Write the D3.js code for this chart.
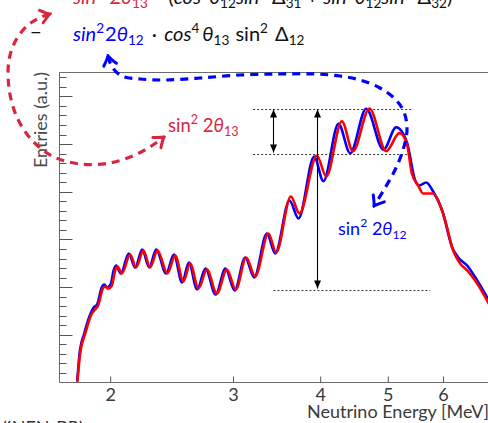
<!DOCTYPE html>
<html><head><meta charset="utf-8">
<script src="https://cdn.jsdelivr.net/npm/d3@7"></script>
<style>
html,body{margin:0;padding:0;background:#fff;overflow:hidden;}
svg{display:block;}
text{font-family:Lato,'DejaVu Sans',sans-serif;}
</style></head><body>
<svg id="c" width="488" height="423"></svg>
<script>
// ---- data ----
const energyRed = [1.795,1.811,1.842,1.883,1.903,1.922,1.952,1.967,1.987,2.011,2.033,2.049,2.079,2.136,2.179,2.232,2.282,2.338,2.416,2.479,2.547,2.604,2.677,2.752,2.844,2.940,3.028,3.133,3.227,3.372,3.459,3.631,3.736,3.956,4.080,4.297,4.456,4.706,4.973,5.196,5.325,5.413,5.527,5.619,5.808,5.904,6.042,6.204,6.349,6.497,6.715,6.940,7.13];
const entriesRed = [0.02,0.608,1.027,1.447,1.531,1.615,1.971,2.013,1.971,2.034,2.348,2.432,2.286,2.684,2.411,2.768,2.411,2.768,2.286,2.663,2.118,2.495,1.971,2.369,1.866,2.369,1.950,2.621,2.223,3.124,2.726,3.900,3.544,4.760,4.320,5.479,4.850,5.745,4.850,5.228,5.011,4.382,4.131,3.963,3.963,3.816,3.397,2.768,2.495,2.349,2.076,1.719,1.405];
const energyBlue = [1.794,1.808,1.836,1.875,1.894,1.916,1.945,1.961,1.980,2.003,2.025,2.040,2.071,2.127,2.172,2.223,2.275,2.328,2.406,2.468,2.536,2.593,2.665,2.739,2.833,2.926,3.016,3.123,3.217,3.355,3.448,3.614,3.724,3.921,4.043,4.249,4.416,4.656,4.929,5.140,5.325,5.473,5.545,5.675,5.808,5.983,6.183,6.307,6.497,6.715,6.940,7.126];
const entriesBlue = [0.02,0.608,1.027,1.447,1.573,1.636,1.992,2.055,1.992,2.055,2.369,2.453,2.286,2.705,2.411,2.789,2.411,2.789,2.286,2.684,2.097,2.516,1.950,2.390,1.845,2.390,1.929,2.621,2.202,3.124,2.705,3.816,3.439,4.739,4.221,5.425,4.808,5.739,4.879,5.353,5.039,4.236,4.131,4.194,4.005,3.607,2.831,2.621,2.453,2.139,1.782,1.468];
const xTickValues = [2,3,4,5,6];
const xTickLabels = ["2","3","4","5","6"];
const yMinorStep = 0.2;
// reference levels of the annotation (entries) and their energy extents
const levelValues = [5.745, 4.80, 1.95];
const levelFrom = [3.206, 3.206, 3.428];
const levelTo = [5.418, 5.418, 5.751];
const arrowEnergies = [3.428, 3.960];
const arrowFrom = [5.745, 5.745];
const arrowTo = [4.80, 1.95];

// ---- layout ----
const svg = d3.select('#c');
const W = 488, H = 423;
const pLeft = 59.5, pTop = 72.5, pBottom = 382.5;
const x = d3.scaleLog().domain([1.692, 8]).range([pLeft, pLeft + 303*Math.log(8/1.692)]);
const y = d3.scaleLinear().domain([0, 6.5]).range([pBottom, pTop]);
const RED = '#ff0000', BLUE = '#0000ff', DRED = '#d7263d';

const defs = svg.append('defs');
defs.append('clipPath').attr('id','plot').append('rect')
  .attr('x', pLeft).attr('y', pTop).attr('width', W - pLeft + 20).attr('height', pBottom - pTop);
function vMarker(id, col){
  defs.append('marker').attr('id', id).attr('markerUnits','userSpaceOnUse')
    .attr('viewBox','-11 -9 13 18').attr('markerWidth',13).attr('markerHeight',18)
    .attr('refX',0).attr('refY',0).attr('orient','auto-start-reverse')
    .append('path').attr('d','M-9,-6.5 Q-3,-1.5 0,0 Q-3,1.5 -9,6.5')
    .attr('fill','none').attr('stroke',col).attr('stroke-width',3).attr('stroke-linecap','round');
}
vMarker('vr', DRED); vMarker('vb', BLUE);
defs.append('marker').attr('id','tri').attr('markerUnits','userSpaceOnUse')
  .attr('viewBox','-9 -4 10 8').attr('markerWidth',10).attr('markerHeight',8)
  .attr('refX',0).attr('refY',0).attr('orient','auto-start-reverse')
  .append('path').attr('d','M-8,-3.5 L0,0 L-8,3.5 Z').attr('fill','#000');

// frame
svg.append('path').attr('d',`M${pLeft},${pBottom} L${pLeft},${pTop} L${W+5},${pTop}`)
  .attr('fill','none').attr('stroke','#6b6b6b').attr('stroke-width',1);
svg.append('line').attr('x1',pLeft).attr('x2',W+5).attr('y1',pBottom).attr('y2',pBottom)
  .attr('stroke','#6b6b6b').attr('stroke-width',1);

// y ticks (inside)
const yTicks = d3.range(0, 6.5 + 1e-9, yMinorStep).filter(v => v > 0.01);
svg.append('g').selectAll('line').data(yTicks).join('line')
  .attr('x1', pLeft).attr('x2', v => pLeft + (Math.abs(v - Math.round(v)) < 1e-6 ? 13 : 7))
  .attr('y1', v => Math.round(y(v)) + 0.5).attr('y2', v => Math.round(y(v)) + 0.5)
  .attr('stroke','#555').attr('stroke-width',1);

// x axis ticks + labels
const xAxis = d3.axisBottom(x).tickValues(xTickValues)
  .tickFormat((d,i) => xTickLabels[i]).tickSizeInner(-6).tickSizeOuter(0).tickPadding(6);
const gx = svg.append('g').attr('transform',`translate(0,${pBottom})`).call(xAxis);
gx.select('.domain').remove();
gx.selectAll('.tick line').attr('stroke','#555');
gx.selectAll('.tick text').attr('font-size',18).attr('fill','#3a3a3a')
  .attr('font-family','Lato, DejaVu Sans, sans-serif').attr('dy','0.71em');

// axis titles
svg.append('text').attr('x', 489).attr('y', 418).attr('text-anchor','end')
  .attr('font-size',18).attr('fill','#3a3a3a').text('Neutrino Energy [MeV]');
svg.append('text').attr('transform','translate(47,72) rotate(-90)').attr('text-anchor','end')
  .attr('font-size',18).attr('fill','#4a4a4a').text('Entries (a.u.)');
svg.append('text').attr('x',2).attr('y',434).attr('font-size',18).attr('fill','#333').text('(INFN-BR)');

// spectra
const line = d3.line().x(d => x(d[0])).y(d => y(d[1])).curve(d3.curveMonotoneX);
const plot = svg.append('g').attr('clip-path','url(#plot)');
plot.append('path').datum(d3.zip(energyBlue, entriesBlue)).attr('d', line)
  .attr('fill','none').attr('stroke',BLUE).attr('stroke-width',2.6).attr('stroke-linejoin','round');
plot.append('path').datum(d3.zip(energyRed, entriesRed)).attr('d', line)
  .attr('fill','none').attr('stroke',RED).attr('stroke-width',2.6).attr('stroke-linejoin','round');

// dotted reference levels
svg.append('g').selectAll('line').data(levelValues).join('line')
  .attr('x1',(d,i)=>x(levelFrom[i])).attr('x2',(d,i)=>x(levelTo[i]))
  .attr('y1',d=>Math.round(y(d))+0.5).attr('y2',d=>Math.round(y(d))+0.5)
  .attr('stroke','#333').attr('stroke-width',1).attr('stroke-dasharray','2,2');
// double arrows
svg.append('g').selectAll('line').data(arrowEnergies).join('line')
  .attr('x1',d=>Math.round(x(d))+0.5).attr('x2',d=>Math.round(x(d))+0.5)
  .attr('y1',(d,i)=>y(arrowFrom[i])+1).attr('y2',(d,i)=>y(arrowTo[i])-1)
  .attr('stroke','#000').attr('stroke-width',1.1)
  .attr('marker-start','url(#tri)').attr('marker-end','url(#tri)');

// dashed annotation arrows (page coordinates)
const ann = d3.line().curve(d3.curveCatmullRom.alpha(0.5));
const redPath = [[50,14],[39,18],[27,26],[16,40],[9,60],[9,88],[16,115],[30,138],[52,156],[80,164],[110,163],[135,155],[153,145],[164,137]];
const bluePath = [[108,56],[112,67],[122,76],[140,79],[165,80],[200,78],[240,75],[280,74],[315,74],[340,76],[360,80],[380,88],[395,99],[404,112],[407,130],[403,150],[395,170],[385,188],[374,206]];
svg.append('path').attr('d', ann(redPath)).attr('fill','none').attr('stroke',DRED)
  .attr('stroke-width',3.2).attr('stroke-dasharray','8,6')
  .attr('marker-start','url(#vr)').attr('marker-end','url(#vr)');
svg.append('path').attr('d', ann(bluePath)).attr('fill','none').attr('stroke',BLUE)
  .attr('stroke-width',3.2).attr('stroke-dasharray','8,6')
  .attr('marker-start','url(#vb)').attr('marker-end','url(#vb)');

// formula text helper
function formula(px, py, size, pieces){
  const t = svg.append('text').attr('x',px).attr('y',py).attr('font-size',size);
  let cur = 0;
  pieces.forEach(p => {
    const target = p.sup ? -size*0.42 : p.sub ? size*0.22 : 0;
    const ts = t.append('tspan').attr('dy', target - cur).text(p.t);
    cur = target;
    if (p.sup || p.sub) ts.attr('font-size', size*0.68);
    if (p.it) ts.attr('font-style','italic');
    if (p.dx) ts.attr('dx', p.dx);
    ts.attr('fill', p.c || '#111');
  });
  return t;
}
const S = '\u00A0';
formula(73, 4, 20, [
  {t:'sin',it:1,c:DRED},{t:'2',sup:1,c:DRED},{t:S+'2',c:DRED},{t:'θ',it:1,c:DRED},{t:'13',sub:1,c:DRED},
  {t:S+'·'+S+S+'('},{t:'cos',it:1},{t:'2',sup:1},{t:'θ',it:1},{t:'12',sub:1},{t:'sin',it:1},{t:'2',sup:1},
  {t:S+'Δ'},{t:'31',sub:1},{t:S+'+'+S},{t:'sin',it:1},{t:'2',sup:1},{t:'θ',it:1},{t:'12',sub:1},
  {t:'sin',it:1},{t:'2',sup:1},{t:S+'Δ'},{t:'32',sub:1},{t:')'}
]);
formula(30, 39, 20, [{t:'−'}]);
formula(73, 41, 20, [
  {t:'sin',it:1,c:BLUE},{t:'2',sup:1,c:BLUE},{t:'2',c:BLUE,dx:1},{t:'θ',it:1,c:BLUE},{t:'12',sub:1,c:BLUE},
  {t:S+'·'+S,dx:3},{t:'cos',it:1,dx:2},{t:'4',sup:1},{t:'θ',it:1,dx:3},{t:'13',sub:1},{t:S+'sin',dx:1},{t:'2',sup:1},{t:S+'Δ',dx:2},{t:'12',sub:1}
]);
// in-plot labels
formula(168, 132, 18.5, [{t:'sin',c:DRED},{t:'2',sup:1,c:DRED},{t:S+'2',c:DRED},{t:'θ',it:1,c:DRED},{t:'13',sub:1,c:DRED}]);
formula(338, 235, 18, [{t:'sin',c:BLUE},{t:'2',sup:1,c:BLUE},{t:S+'2',c:BLUE},{t:'θ',it:1,c:BLUE},{t:'12',sub:1,c:BLUE}]);
</script>
</body></html>
